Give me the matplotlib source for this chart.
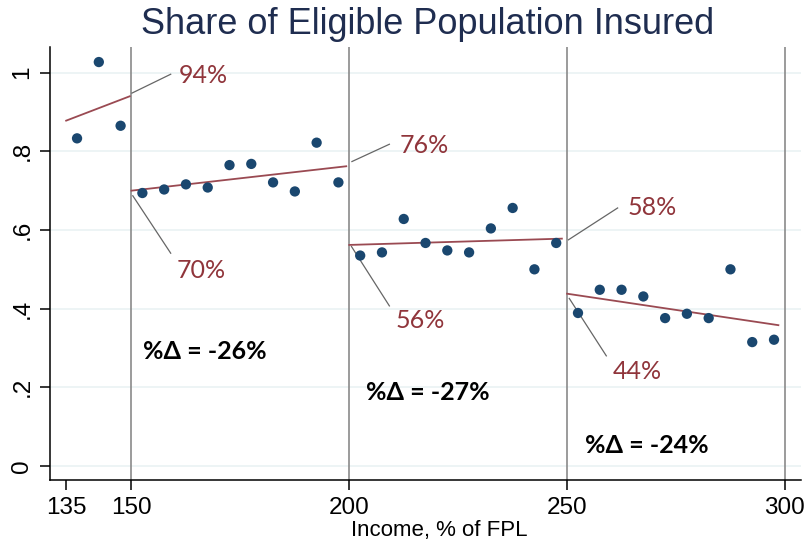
import matplotlib
matplotlib.use("Agg")
import matplotlib.pyplot as plt

# binned income (% of FPL) and share insured
income = [137.5, 142.5, 147.5,
          152.5, 157.5, 162.5, 167.5, 172.5, 177.5, 182.5, 187.5, 192.5, 197.5,
          202.5, 207.5, 212.5, 217.5, 222.5, 227.5, 232.5, 237.5, 242.5, 247.5,
          252.5, 257.5, 262.5, 267.5, 272.5, 277.5, 282.5, 287.5, 292.5, 297.5]
share = [0.833, 1.027, 0.865,
         0.694, 0.703, 0.716, 0.708, 0.765, 0.768, 0.721, 0.698, 0.822, 0.721,
         0.535, 0.543, 0.628, 0.567, 0.548, 0.543, 0.604, 0.656, 0.500, 0.567,
         0.389, 0.448, 0.448, 0.431, 0.376, 0.387, 0.376, 0.500, 0.315, 0.321]

# linear fits within each segment
fit_x0 = [135, 150, 200, 250]
fit_x1 = [149.6, 199.3, 248.8, 298.5]
fit_y0 = [0.878, 0.700, 0.562, 0.438]
fit_y1 = [0.940, 0.762, 0.578, 0.358]

cutoffs = [150, 200, 250, 300]
edge_labels = ["94%", "70%", "76%", "56%", "58%", "44%"]
pct_change = ["-26%", "-27%", "-24%"]

xticks = [135, 150, 200, 250, 300]
yticks = [0, 0.2, 0.4, 0.6, 0.8, 1.0]
ytick_labels = ["0", ".2", ".4", ".6", ".8", "1"]

navy = "#1a476f"
maroon = "#90353b"

fig = plt.figure(figsize=(8.07, 5.45), dpi=100)
ax = fig.add_axes([0.062, 0.1193, 0.9306, 0.7945])

ax.set_xlim(131.3, 303.7)
ax.set_ylim(-0.0356, 1.0653)

for y in yticks:
    ax.axhline(y, color="#eaf2f3", lw=1.2, zorder=0)
for c in cutoffs:
    ax.axvline(c, color="#8a8a8a", lw=1.2, zorder=1)

ax.scatter(income, share, s=55, color=navy, edgecolors="none", zorder=4)

for x0, x1, y0, y1 in zip(fit_x0, fit_x1, fit_y0, fit_y1):
    ax.plot([x0, x1], [y0, y1], color="#9a4a52", lw=1.3, zorder=3)

# connector start, connector end, label position
ann = [((150.1, 0.948), (159.0, 0.996), (160.9, 0.994)),
       ((150.3, 0.687), (159.0, 0.541), (160.4, 0.498)),
       ((200.6, 0.774), (209.2, 0.818), (211.5, 0.816)),
       ((200.5, 0.558), (209.2, 0.407), (210.7, 0.371)),
       ((250.3, 0.575), (261.6, 0.656), (263.9, 0.656)),
       ((250.5, 0.426), (259.0, 0.280), (260.5, 0.240))]
for lab, (p0, p1, pt) in zip(edge_labels, ann):
    ax.plot([p0[0], p1[0]], [p0[1], p1[1]], color="#666666", lw=0.9, zorder=2)
    ax.text(pt[0], pt[1], lab, color=maroon, fontsize=18, family=["Lato", "DejaVu Sans"],
            ha="left", va="center")

chg_pos = [(152.6, 0.290), (203.8, 0.186), (254.0, 0.052)]
for ch, (tx, ty) in zip(pct_change, chg_pos):
    ax.text(tx, ty, "%\u0394 = " + ch, fontsize=18, fontweight="bold",
            family=["Lato", "DejaVu Sans"], ha="left", va="center", color="black")

ax.set_xticks(xticks)
ax.set_xticklabels([str(t) for t in xticks], fontsize=17.5, family="Liberation Sans")
ax.set_yticks(yticks)
ax.set_yticklabels(ytick_labels, fontsize=17.5, family="Liberation Sans",
                   rotation=90, va="center")
ax.tick_params(axis="both", length=7, width=1.1, color="black", pad=5)

for s in ["top", "right"]:
    ax.spines[s].set_visible(False)
for s in ["left", "bottom"]:
    ax.spines[s].set_linewidth(1.1)

ax.set_xlabel("Income, % of FPL", fontsize=16, family="Liberation Sans")
ax.xaxis.set_label_coords(0.518, -0.093)
fig.text(0.53, 0.955, "Share of Eligible Population Insured", fontsize=26,
         family="Liberation Sans", color="#1f2d50", ha="center", va="center")

fig.savefig("out.png", dpi=100)
